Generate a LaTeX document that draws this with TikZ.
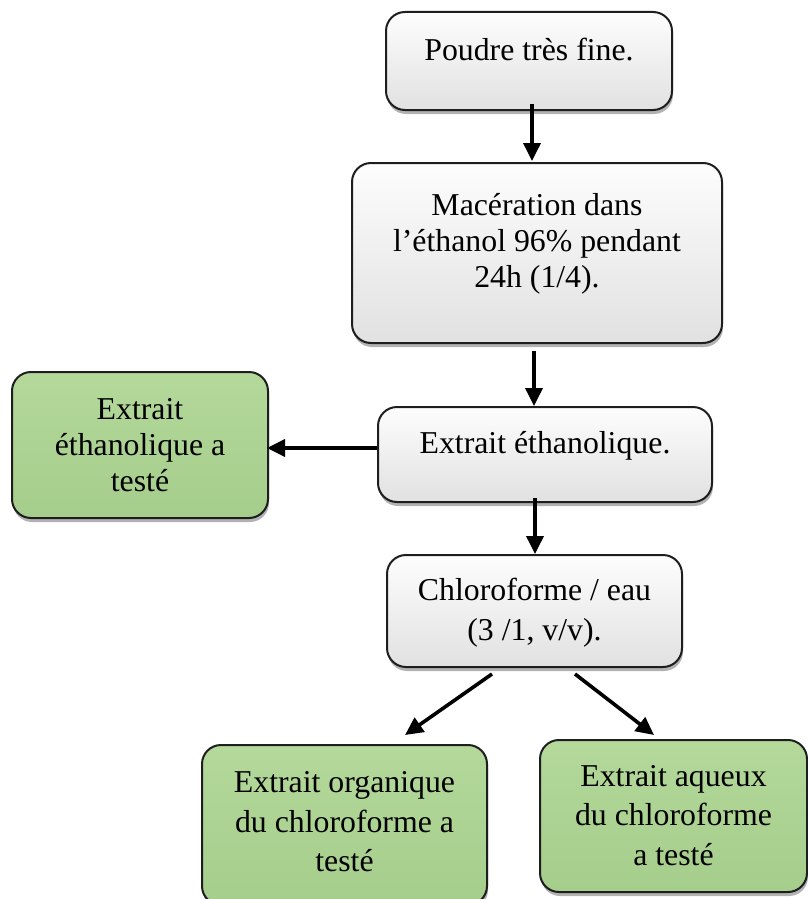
\documentclass[tikz,border=0pt]{standalone}
\usepackage{fontspec}
\setmainfont{Liberation Serif}
\usetikzlibrary{shadows,arrows.meta}
\definecolor{boxline}{RGB}{30,30,30}
\definecolor{graytop}{RGB}{253,253,253}
\definecolor{graybot}{RGB}{225,225,225}
\definecolor{greentop}{RGB}{180,217,155}
\definecolor{greenbot}{RGB}{165,205,139}
\begin{document}
\begin{tikzpicture}[x=1pt,y=-1pt,
  box/.style={draw=boxline, line width=2pt, rounded corners=19pt, inner sep=0pt,
    drop shadow={shadow xshift=1pt, shadow yshift=-4pt, opacity=0.3, fill=black}},
  graybox/.style={box, top color=graytop, bottom color=graybot},
  greenbox/.style={box, top color=greentop, bottom color=greenbot},
  txt/.style={align=center, inner sep=0pt, font=\fontsize{31.8}{36}\selectfont},
  txtw/.style={align=center, inner sep=0pt, font=\fontsize{31.8}{39.5}\selectfont},
  arr/.style={-{Triangle[length=18pt,width=17pt]}, line width=3.6pt, black}]
\useasboundingbox (0,0) rectangle (808,899);
\fill[white] (0,0) rectangle (808,899);

% boxes
\node[graybox, minimum width=286pt, minimum height=98pt] (a) at (529,61) {};
\node[graybox, minimum width=370pt, minimum height=180pt] (b) at (537,253) {};
\node[graybox, minimum width=334pt, minimum height=95pt] (c) at (545,454.5) {};
\node[greenbox, minimum width=256pt, minimum height=146pt] (g1) at (140,445) {};
\node[graybox, minimum width=295pt, minimum height=112pt] (d) at (534.5,611) {};
\node[greenbox, minimum width=285pt, minimum height=160pt] (g2) at (344.5,825) {};
\node[greenbox, minimum width=267pt, minimum height=152pt] (g3) at (673.5,816) {};

% texts
\node[txt] (at) at (529,49.2) {Poudre très fine.};
\node[txt] (bt) at (537,243.6) {Macération dans\\l’éthanol 96\% pendant\\24h (1/4).};
\node[txt] (ct) at (545,445.6) {Extrait éthanolique.};
\node[txt] (g1t) at (140,445.2) {Extrait\\éthanolique a\\testé};
\node[txtw] (dt) at (534.5,612.6) {Chloroforme / eau\\(3 /1, v/v).};
\node[txtw] (g2t) at (344.5,821.7) {Extrait organique\\du chloroforme a\\testé};
\node[txtw] (g3t) at (673.5,815.2) {Extrait aqueux\\du chloroforme\\a testé};

% connectors
\draw[arr] ([xshift=3pt,yshift=7pt]a.south) -- ([xshift=-5pt,yshift=1pt]b.north);
\draw[arr] ([xshift=-3pt,yshift=-7pt]b.south) -- ([xshift=-11pt]c.north);
\draw[arr] ([yshift=6.5pt]c.west) -- ([xshift=-2pt,yshift=-3pt]g1.east);
\draw[arr] ([xshift=-10pt,yshift=5pt]c.south) -- ([xshift=0.5pt]d.north);
\draw[arr] ([xshift=-42.5pt,yshift=-6pt]d.south) -- ([xshift=60.5pt,yshift=9pt]g2.north);
\draw[arr] ([xshift=40.5pt,yshift=-6pt]d.south) -- ([xshift=-19.5pt,yshift=4pt]g3.north);
\end{tikzpicture}
\end{document}
